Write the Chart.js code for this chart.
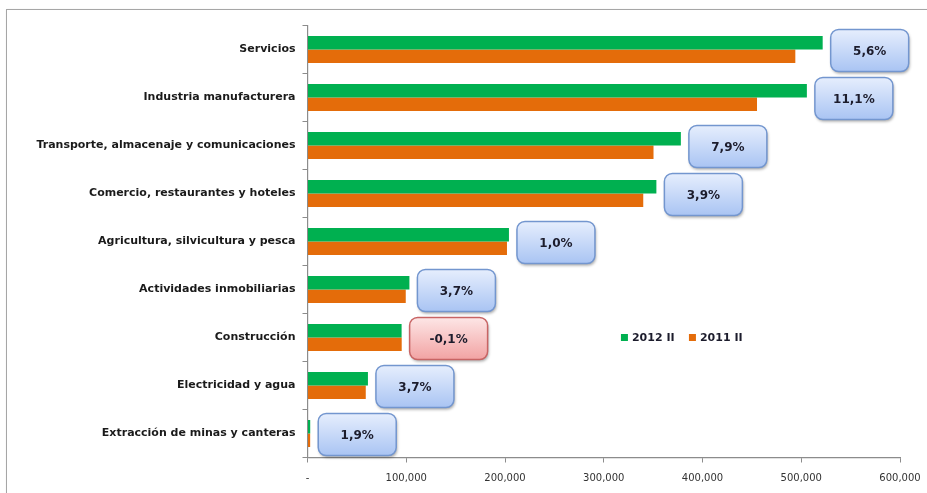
<!DOCTYPE html>
<html>
<head>
<meta charset="utf-8">
<script src="https://cdn.jsdelivr.net/npm/chart.js@4/dist/chart.umd.min.js"></script>
<style>
  html, body { margin: 0; padding: 0; background: #fff; }
  #wrap { position: relative; width: 927px; height: 493px; overflow: hidden; }
  #frame {
    position: absolute; left: 6px; top: 9px; width: 1000px; height: 600px;
    border: 1.5px solid #a6a6a6; box-shadow: 1px 1px 2px rgba(0,0,0,0.25);
  }
  #pibChart { position: absolute; left: 0; top: 0; }
</style>
</head>
<body>
<div id="wrap">
  <div id="frame"></div>
  <canvas id="pibChart" width="927" height="493"></canvas>
</div>
<script>
// PIB por actividad económica, segundo trimestre
const sectores = [
  'Servicios',
  'Industria manufacturera',
  'Transporte, almacenaje y comunicaciones',
  'Comercio, restaurantes y hoteles',
  'Agricultura, silvicultura y pesca',
  'Actividades inmobiliarias',
  'Construcción',
  'Electricidad y agua',
  'Extracción de minas y canteras'
];
const valores2012 = [521700, 505700, 378100, 353300, 204000, 103200, 95300, 61200, 2750];
const valores2011 = [494000, 455200, 350400, 340000, 202000, 99500, 95400, 59000, 2700];
const crecimiento = ['5,6%', '11,1%', '7,9%', '3,9%', '1,0%', '3,7%', '-0,1%', '3,7%', '1,9%'];
const seriesNombres = ['2012 II', '2011 II'];
const ejeMax = 600000;
const ejePaso = 100000;

(() => {
  const VERDE = '#00b050';
  const NARANJA = '#e46c0a';
  const TEXTO = '#1c1c2c';
  const FUENTE = '"DejaVu Sans", Verdana, sans-serif';

  // cajas redondeadas con la variación anual junto a cada barra
  const cajasCrecimiento = {
    id: 'cajasCrecimiento',
    afterDatasetsDraw(chart) {
      const ctx = chart.ctx;
      const yScale = chart.scales.y;
      const barras = chart.getDatasetMeta(0).data;
      const w = 78, h = 42;
      barras.forEach((bar, i) => {
        const negativo = crecimiento[i].startsWith('-');
        const x = bar.x + 8;
        const y = yScale.getPixelForValue(i) + 1 - h / 2;
        const grad = ctx.createLinearGradient(0, y, 0, y + h);
        if (negativo) {
          grad.addColorStop(0, '#fde6e6');
          grad.addColorStop(1, '#f2a3a3');
        } else {
          grad.addColorStop(0, '#e6eefd');
          grad.addColorStop(1, '#a9c4f3');
        }
        ctx.save();
        ctx.shadowColor = 'rgba(0,0,0,0.35)';
        ctx.shadowBlur = 3;
        ctx.shadowOffsetX = 1;
        ctx.shadowOffsetY = 2;
        ctx.beginPath();
        ctx.roundRect(x, y, w, h, 8);
        ctx.fillStyle = grad;
        ctx.fill();
        ctx.shadowColor = 'transparent';
        ctx.lineWidth = 1.5;
        ctx.strokeStyle = negativo ? '#c86464' : '#7396cf';
        ctx.stroke();
        ctx.fillStyle = TEXTO;
        ctx.font = 'bold 12px ' + FUENTE;
        ctx.textAlign = 'center';
        ctx.textBaseline = 'middle';
        ctx.fillText(crecimiento[i], x + w / 2, y + h / 2 + 1);
        ctx.restore();
      });
    }
  };

  // leyenda dentro del área del gráfico
  const leyendaInterna = {
    id: 'leyendaInterna',
    afterDraw(chart) {
      const ctx = chart.ctx;
      const area = chart.chartArea;
      let x = area.left + (area.right - area.left) * 0.529;
      const y = chart.scales.y.getPixelForValue(6);
      ctx.save();
      ctx.font = 'bold 11px ' + FUENTE;
      ctx.textBaseline = 'middle';
      chart.data.datasets.forEach(ds => {
        ctx.fillStyle = ds.backgroundColor;
        ctx.fillRect(x, y - 3.5, 7, 7);
        ctx.fillStyle = TEXTO;
        ctx.fillText(ds.label, x + 11, y + 0.5);
        x += 68;
      });
      ctx.restore();
    }
  };

  const canvas = document.getElementById('pibChart');
  new Chart(canvas.getContext('2d'), {
    type: 'bar',
    data: {
      labels: sectores,
      datasets: [
        { label: seriesNombres[0], data: valores2012, backgroundColor: VERDE },
        { label: seriesNombres[1], data: valores2011, backgroundColor: NARANJA }
      ]
    },
    options: {
      indexAxis: 'y',
      responsive: false,
      animation: false,
      categoryPercentage: 0.56,
      barPercentage: 1.0,
      layout: { padding: { top: 25.5, right: 27, bottom: 0, left: 0 } },
      plugins: {
        legend: { display: false },
        tooltip: { enabled: false }
      },
      scales: {
        x: {
          min: 0,
          max: ejeMax,
          afterFit: s => {
            s.height = 35.5;
            s.paddingLeft = 0;
            s.paddingRight = 0;
          },
          border: { color: '#8c8c8c', width: 1.2 },
          grid: { drawOnChartArea: false, tickLength: 5, color: '#8c8c8c' },
          ticks: {
            stepSize: ejePaso,
            padding: 10,
            color: '#333',
            font: { family: FUENTE, size: 10 },
            callback: v => v === 0 ? '-' : v.toLocaleString('en-US')
          }
        },
        y: {
          afterFit: s => {
            s.width = 307.5;
            s.paddingTop = 0;
            s.paddingBottom = 0;
          },
          border: { color: '#8c8c8c', width: 1.2 },
          grid: { drawOnChartArea: false, tickLength: 5, color: '#8c8c8c' },
          ticks: {
            padding: 7,
            color: '#1a1a1a',
            font: { family: FUENTE, size: 11, weight: 'bold' }
          }
        }
      }
    },
    plugins: [cajasCrecimiento, leyendaInterna]
  });
})();
</script>
</body>
</html>
